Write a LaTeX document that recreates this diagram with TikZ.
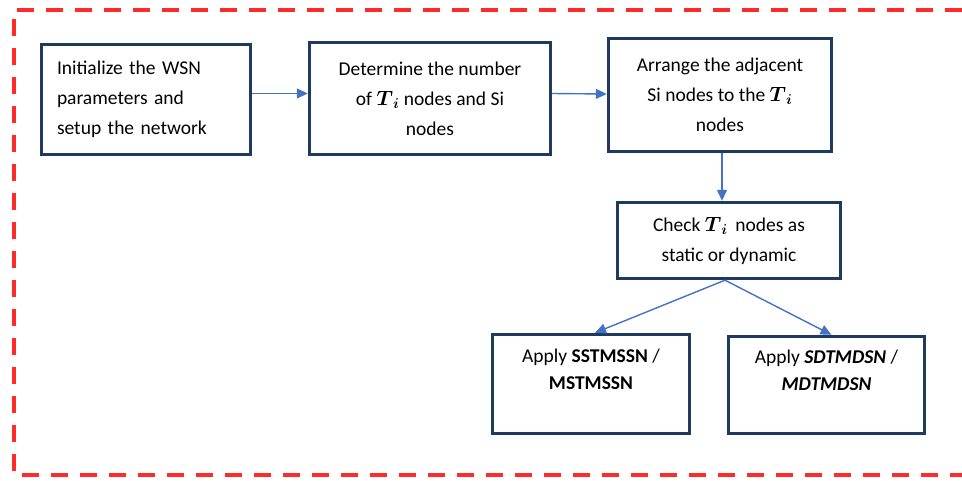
\documentclass[tikz,border=0pt]{standalone}
\usepackage{amsmath}
\usepackage{fontspec}
\setmainfont{Carlito}
\usetikzlibrary{arrows.meta}

\definecolor{boxblue}{HTML}{1F3A5F}
\definecolor{arrowblue}{HTML}{4472C4}
\definecolor{framered}{HTML}{FF2A2A}
\newcommand{\Tnode}{$\boldsymbol{T}_{\boldsymbol{i}}$}

\begin{document}
\begin{tikzpicture}[x=1pt, y=-1pt, >={Triangle[length=11pt,width=10pt]},
  box/.style={draw=boxblue, line width=3.4pt, fill=white, align=center,
    inner sep=0pt, font=\fontsize{19.5}{30}\selectfont},
  flow/.style={->, draw=arrowblue, fill=arrowblue, line width=1.4pt}]
  \useasboundingbox (0,0) rectangle (962,481);

  % dashed frame, open on the right
  \draw[framered, line width=4pt, dash pattern=on 17pt off 12pt]
    (962,10) -- (14,10) -- (14,475) -- (962,475);

  \node[box, minimum width=209pt, minimum height=110pt, text width=178pt, align=left]
    (init) at (146,99.5) {Initialize the WSN\\ parameters and\\ setup the network};
  \node[box, minimum width=241pt, minimum height=112pt]
    (count) at (430,98.5) {Determine the number\\ of \Tnode{} nodes and Si\\ nodes};
  \node[box, minimum width=223pt, minimum height=113pt]
    (arrange) at (720,95) {Arrange the adjacent\\ Si nodes to the \Tnode\\ nodes};
  \node[box, minimum width=223pt, minimum height=76pt]
    (check) at (729,240.5) {Check \Tnode{}\, nodes as\\ static or dynamic};
  \node[box, minimum width=197pt, minimum height=99pt]
    (sstm) at (591,384) {Apply \textbf{SSTMSSN} /\\[-3pt] \textbf{MSTMSSN}\\ \mbox{}};
  \node[box, minimum width=196pt, minimum height=97pt]
    (sdtm) at (826.5,385) {Apply \textbf{\textit{SDTMDSN}} /\\[-3pt] \textbf{\textit{MDTMDSN}}\\ \mbox{}};

  \draw[flow] ([yshift=6pt]init.east) -- ([yshift=5pt]count.west);
  \draw[flow] ([yshift=5pt]count.east) -- ([yshift=1pt]arrange.west);
  \draw[flow] ([xshift=2pt]arrange.south) -- ([xshift=2pt]arrange.south |- check.north);
  \draw[flow] ([xshift=-4pt]check.south) -- ([xshift=4pt]sstm.north);
  \draw[flow] ([xshift=-4pt]check.south) -- ([xshift=5pt]sdtm.north);
\end{tikzpicture}
\end{document}
